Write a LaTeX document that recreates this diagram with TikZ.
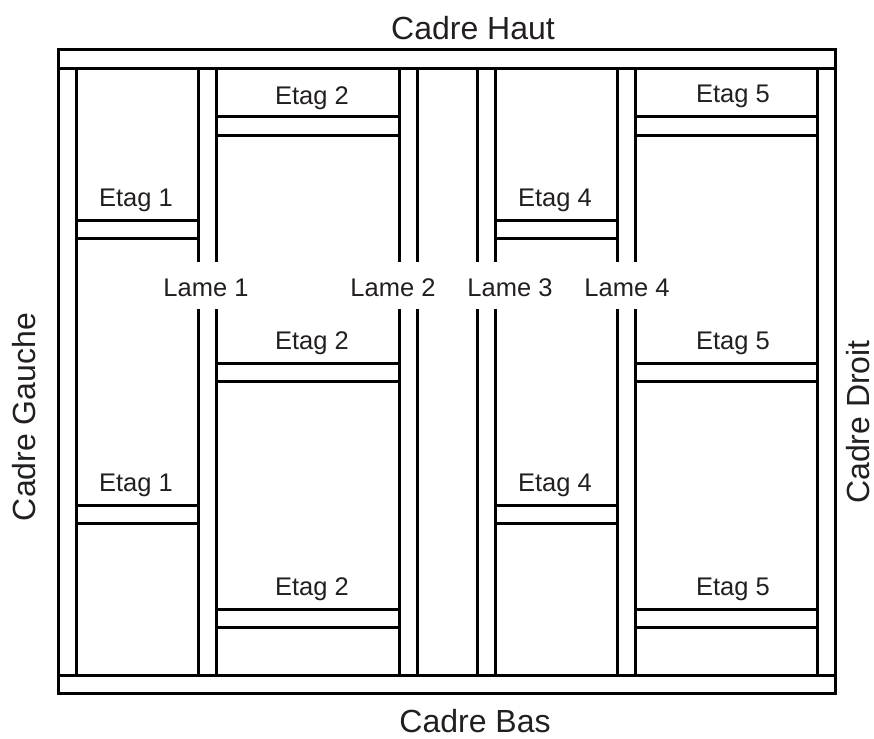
\documentclass[tikz,border=0pt]{standalone}
\usepackage{fontspec}
\setmainfont{Liberation Sans}
\definecolor{inktext}{HTML}{231F20}
\tikzstyle{plank} = [draw=black, line width=3pt, fill=white]
\tikzstyle{label} = [text=inktext, font=\fontsize{25.5}{30}\selectfont, inner sep=0pt]
\tikzstyle{title} = [label, font=\fontsize{32}{38}\selectfont]
\tikzstyle{gap} = [label, fill=white, text height=34pt, text depth=13pt, inner xsep=1pt]
\def\etagh{18.5}

\begin{document}
\begin{tikzpicture}[x=1pt,y=-1pt]
	\useasboundingbox (0,0) rectangle (874,738);

	% Define the uprights in the picture
	\draw [plank] (58,68.5) rectangle (76.5,675);
	\draw [plank] (198,68.5) rectangle (216.5,675);
	\draw [plank] (399,68.5) rectangle (417.5,675);
	\draw [plank] (477,68.5) rectangle (495.5,675);
	\draw [plank] (617,68.5) rectangle (635.5,675);
	\draw [plank] (817,68.5) rectangle (835,675);

	% Define the frame
	\draw [plank] (58,50) rectangle (835,68.5);
	\draw [plank] (58,675) rectangle (835,693);

	% Define the shelves
	\draw [plank] (76.5,220) rectangle +(121.5,\etagh);
	\draw [plank] (76.5,505) rectangle +(121.5,\etagh);
	\draw [plank] (216.5,117) rectangle +(182.5,\etagh);
	\draw [plank] (216.5,363) rectangle +(182.5,\etagh);
	\draw [plank] (216.5,609) rectangle +(182.5,\etagh);
	\draw [plank] (495.5,220) rectangle +(121.5,\etagh);
	\draw [plank] (495.5,505) rectangle +(121.5,\etagh);
	\draw [plank] (635.5,117) rectangle +(181.5,\etagh);
	\draw [plank] (635.5,363) rectangle +(181.5,\etagh);
	\draw [plank] (635.5,609) rectangle +(181.5,\etagh);

	% Define the labels in the picture
	\node (cadre_haut) [title] at (473,28) {Cadre Haut};
	\node (cadre_bas) [title] at (475,721) {Cadre Bas};
	\node (cadre_gauche) [title,rotate=90] at (24,417) {Cadre Gauche};
	\node (cadre_droit) [title,rotate=90] at (858.5,422) {Cadre Droit};
	\node (etag1_a) [label] at (136,200) {Etag 1};
	\node (etag1_b) [label] at (136,485) {Etag 1};
	\node (etag2_a) [label] at (312,98) {Etag 2};
	\node (etag2_b) [label] at (312,343) {Etag 2};
	\node (etag2_c) [label] at (312,589) {Etag 2};
	\node (etag4_a) [label] at (555,200) {Etag 4};
	\node (etag4_b) [label] at (555,485) {Etag 4};
	\node (etag5_a) [label] at (733,96) {Etag 5};
	\node (etag5_b) [label] at (733,343) {Etag 5};
	\node (etag5_c) [label] at (733,589) {Etag 5};
	\node (lame1) [gap] at (206,285.5) {Lame 1};
	\node (lame2) [gap] at (393,285.5) {Lame 2};
	\node (lame3) [gap] at (510,285.5) {Lame 3};
	\node (lame4) [gap] at (627,285.5) {Lame 4};
\end{tikzpicture}
\end{document}
